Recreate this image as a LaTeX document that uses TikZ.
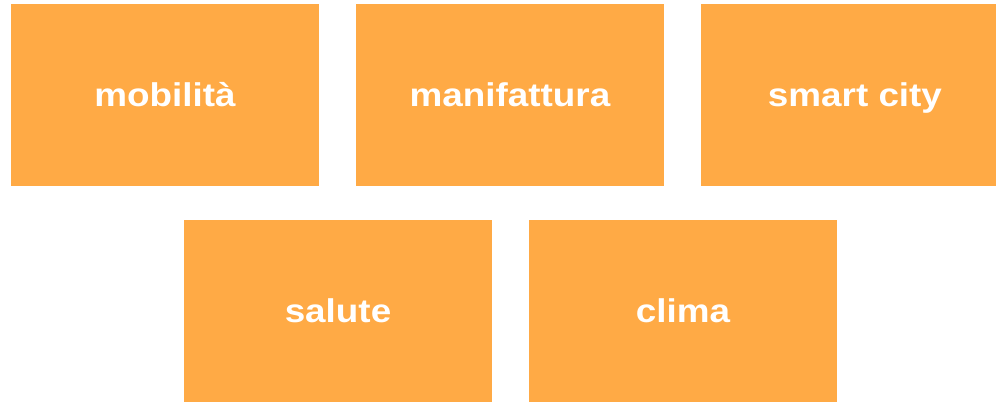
\documentclass[tikz,border=0pt]{standalone}
\usepackage{fontspec}
\setmainfont{Liberation Sans}[FakeStretch=1.12]
\usepackage{xcolor}
\definecolor{tile-orange}{HTML}{FFAA45}

\begin{document}
\begin{tikzpicture}[every node/.style={font=\fontsize{23.4}{28}\selectfont\bfseries},
    tilebox/.style={fill=tile-orange, text=white, minimum width=7.7cm,
      minimum height=4.55cm, inner sep=0pt, text height=17pt, text depth=0pt}]
    \useasboundingbox (0, 0) rectangle (24.9, -10.075);
    \node[tilebox] (mob) at (4.125, -2.375) {mobilità};
    \node[tilebox] (man) at (12.75, -2.375) {manifattura};
    \node[tilebox] (city) at (21.375, -2.375) {smart city};
    \node[tilebox] (sal) at (8.45, -7.775) {salute};
    \node[tilebox] (cli) at (17.075, -7.775) {clima};
  \end{tikzpicture}
\end{document}
